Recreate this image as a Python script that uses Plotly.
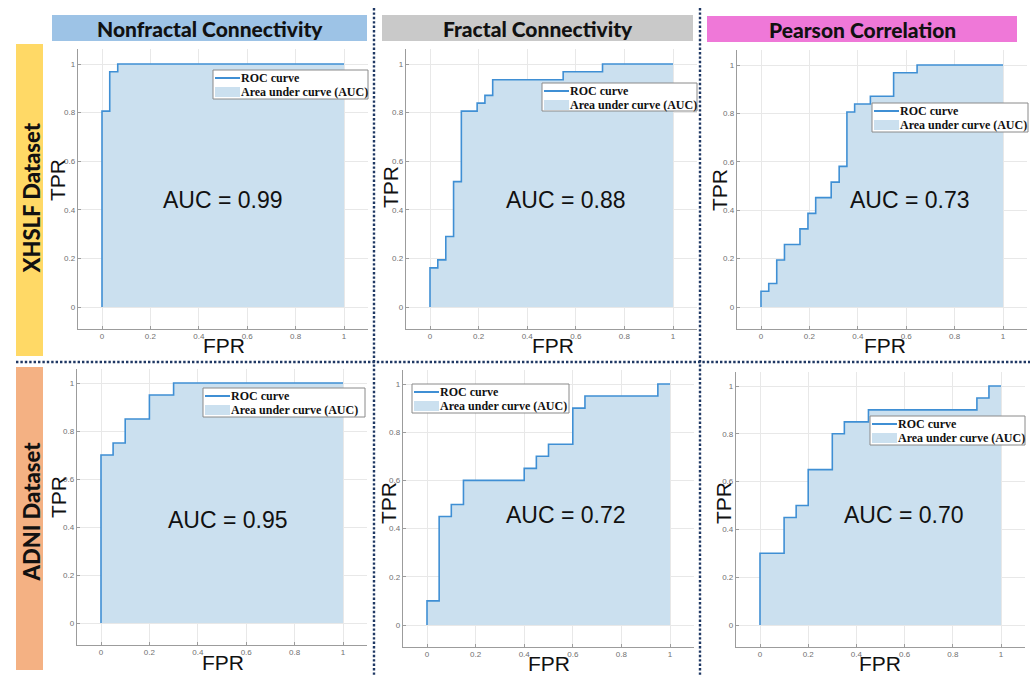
import plotly.graph_objects as go

W, H = 1032, 675

# ROC curves (staircase corner points, drawn with horizontal-then-vertical steps)
xhslf_nonfractal_fpr = [0, 0, 0.032, 0.065, 1]
xhslf_nonfractal_tpr = [0, 0.806, 0.968, 1, 1]

xhslf_fractal_fpr = [0, 0, 0.032, 0.065, 0.097, 0.129, 0.194, 0.226, 0.258, 0.548, 0.710, 1]
xhslf_fractal_tpr = [0, 0.161, 0.194, 0.290, 0.516, 0.806, 0.839, 0.871, 0.935, 0.968, 1, 1]

xhslf_pearson_fpr = [0, 0, 0.032, 0.065, 0.097, 0.161, 0.194, 0.226, 0.290, 0.323, 0.355, 0.387, 0.452, 0.548, 0.645, 1]
xhslf_pearson_tpr = [0, 0.065, 0.097, 0.194, 0.258, 0.323, 0.387, 0.452, 0.516, 0.581, 0.806, 0.839, 0.871, 0.968, 1, 1]

adni_nonfractal_fpr = [0, 0, 0.05, 0.10, 0.20, 0.30, 1]
adni_nonfractal_tpr = [0, 0.70, 0.75, 0.85, 0.95, 1, 1]

adni_fractal_fpr = [0, 0, 0.05, 0.10, 0.15, 0.40, 0.45, 0.50, 0.60, 0.65, 0.95, 1]
adni_fractal_tpr = [0, 0.10, 0.45, 0.50, 0.60, 0.65, 0.70, 0.75, 0.90, 0.95, 1, 1]

adni_pearson_fpr = [0, 0, 0.10, 0.15, 0.20, 0.30, 0.35, 0.45, 0.90, 0.95, 1]
adni_pearson_tpr = [0, 0.30, 0.45, 0.50, 0.65, 0.80, 0.85, 0.90, 0.95, 1, 1]

auc_labels = ["0.99", "0.88", "0.73", "0.95", "0.72", "0.70"]
column_titles = ["Nonfractal Connectivity", "Fractal Connectivity", "Pearson Correlation"]
row_titles = ["XHSLF Dataset", "ADNI Dataset"]
tick_values = [0, 0.2, 0.4, 0.6, 0.8, 1]
tick_text = ["0", "0.2", "0.4", "0.6", "0.8", "1"]

curves = [
    (xhslf_nonfractal_fpr, xhslf_nonfractal_tpr),
    (xhslf_fractal_fpr, xhslf_fractal_tpr),
    (xhslf_pearson_fpr, xhslf_pearson_tpr),
    (adni_nonfractal_fpr, adni_nonfractal_tpr),
    (adni_fractal_fpr, adni_fractal_tpr),
    (adni_pearson_fpr, adni_pearson_tpr),
]

# ---- layout geometry (pixels) ----
# pixel positions of data 0 and 1 on each axis: (x0, x1, y0, y1)
panel_px = [
    (102, 344, 307, 64),
    (430, 673, 307, 64),
    (761, 1003, 307, 65),
    (101, 343, 623, 383),
    (427, 670, 625, 384),
    (760, 1001, 625, 386),
]
# legend boxes: (left, top, right, bottom)
legend_px = [
    (213, 70, 368, 99),
    (542, 83, 697, 111),
    (872, 103, 1028, 132),
    (203, 388, 365, 417),
    (412, 384, 569, 413),
    (870, 416, 1025, 445),
]
auc_px = [(223, 200), (566, 200), (910, 200), (228, 520), (566, 515), (904, 515)]
fpr_px = [(224, 345), (553, 345), (885, 345), (223, 662), (549, 663), (880, 663)]
tpr_px = [(58, 180), (391, 187), (720, 190), (58, 497), (388, 503), (723, 503)]

XR = [-0.1, 1.1]
YR = [-0.09, 1.06]

LINE_BLUE = "#3f8fd4"
FILL_BLUE = "#cbe0ef"
GRID = "#e8e8e8"
AXIS = "#9c9c9c"
NAVY = "#1f3864"


def px(x):
    return x / W


def py(y):
    return 1 - y / H


fig = go.Figure()
layout = {}
shapes = []
annotations = []

for i, ((fpr, tpr), (x0, x1, y0, y1)) in enumerate(zip(curves, panel_px)):
    n = i + 1
    xa = "x" if n == 1 else f"x{n}"
    ya = "y" if n == 1 else f"y{n}"
    sx = x1 - x0
    sy = y0 - y1
    xdom = [px(x0 + XR[0] * sx), px(x0 + XR[1] * sx)]
    ydom = [py(y0 - YR[0] * sy), py(y0 - YR[1] * sy)]

    fig.add_trace(go.Scatter(
        x=fpr, y=tpr, xaxis=xa, yaxis=ya, mode="lines",
        line=dict(shape="hv", width=0, color=FILL_BLUE),
        fill="tozeroy", fillcolor=FILL_BLUE,
        name="Area under curve (AUC)", showlegend=False, hoverinfo="skip",
    ))
    fig.add_trace(go.Scatter(
        x=fpr, y=tpr, xaxis=xa, yaxis=ya, mode="lines",
        line=dict(shape="hv", width=1.6, color=LINE_BLUE),
        name="ROC curve", showlegend=False,
    ))

    axis_common = dict(
        tickvals=tick_values, ticktext=tick_text,
        tickfont=dict(family="Liberation Sans", size=8, color="#707070"),
        showgrid=True, gridcolor=GRID, gridwidth=1,
        zeroline=False, showline=True, linecolor=AXIS, linewidth=1,
        ticks="inside", ticklen=3, tickcolor=AXIS, mirror=False,
    )
    layout["xaxis" if n == 1 else f"xaxis{n}"] = dict(
        axis_common, domain=xdom, range=XR, anchor=ya)
    layout["yaxis" if n == 1 else f"yaxis{n}"] = dict(
        axis_common, domain=ydom, range=YR, anchor=xa)

    # legend box drawn in page coordinates
    L, T, R, B = legend_px[i]
    shapes.append(dict(type="rect", xref="paper", yref="paper",
                       x0=px(L), x1=px(R), y0=py(B), y1=py(T),
                       line=dict(color="#8a8a8a", width=1), fillcolor="white"))
    shapes.append(dict(type="line", xref="paper", yref="paper",
                       x0=px(L + 2), x1=px(L + 27), y0=py(T + 8), y1=py(T + 8),
                       line=dict(color=LINE_BLUE, width=2)))
    shapes.append(dict(type="rect", xref="paper", yref="paper",
                       x0=px(L + 2), x1=px(L + 27), y0=py(T + 27), y1=py(T + 17),
                       line=dict(width=0), fillcolor=FILL_BLUE))
    for txt, dy in (("ROC curve", 8), ("Area under curve (AUC)", 22)):
        annotations.append(dict(
            text=f"<b>{txt}</b>", xref="paper", yref="paper",
            x=px(L + 26), y=py(T + dy), xanchor="left", yanchor="middle",
            showarrow=False,
            font=dict(family="Liberation Serif", size=12, color="#111111")))

    ax, ay = auc_px[i]
    annotations.append(dict(
        text=f"AUC = {auc_labels[i]}", xref="paper", yref="paper",
        x=px(ax), y=py(ay), xanchor="center", yanchor="middle", showarrow=False,
        font=dict(family="Liberation Sans", size=23, color="#111111")))
    fx, fy = fpr_px[i]
    annotations.append(dict(
        text="FPR", xref="paper", yref="paper",
        x=px(fx), y=py(fy), xanchor="center", yanchor="middle", showarrow=False,
        font=dict(family="Liberation Sans", size=21, color="#111111")))
    tx, ty = tpr_px[i]
    annotations.append(dict(
        text="TPR", xref="paper", yref="paper", textangle=-90,
        x=px(tx), y=py(ty), xanchor="center", yanchor="middle", showarrow=False,
        font=dict(family="Liberation Sans", size=21, color="#111111")))

# column headers
header_px = [(52, 15, 367, 41), (382, 15, 693, 41), (707, 16, 1017, 42)]
header_colors = ["#9dc3e6", "#c9c9c9", "#ef78d8"]
for (L, T, R, B), col, title in zip(header_px, header_colors, column_titles):
    shapes.append(dict(type="rect", xref="paper", yref="paper",
                       x0=px(L), x1=px(R), y0=py(B), y1=py(T),
                       line=dict(width=0), fillcolor=col, layer="below"))
    annotations.append(dict(
        text=title, xref="paper", yref="paper",
        x=px((L + R) / 2), y=py((T + B) / 2 + 0.5), xanchor="center", yanchor="middle",
        showarrow=False,
        font=dict(family="Lato", size=21, weight=900, color="#111111")))

# row labels
row_px = [(16, 44, 43, 356), (16, 367, 43, 670)]
row_colors = ["#ffd966", "#f4b183"]
row_text_y = [198, 512]
for (L, T, R, B), col, title, cy in zip(row_px, row_colors, row_titles, row_text_y):
    shapes.append(dict(type="rect", xref="paper", yref="paper",
                       x0=px(L), x1=px(R), y0=py(B), y1=py(T),
                       line=dict(width=0), fillcolor=col, layer="below"))
    annotations.append(dict(
        text=title, xref="paper", yref="paper", textangle=-90,
        x=px((L + R) / 2 + 1), y=py(cy), xanchor="center", yanchor="middle",
        showarrow=False,
        font=dict(family="Lato", size=22, weight=900, color="#111111")))

# dotted separators
dot = dict(color=NAVY, width=2.4, dash="2.4px,2px")
shapes.append(dict(type="line", xref="paper", yref="paper",
                   x0=px(374), x1=px(374), y0=py(8), y1=py(675), line=dot))
shapes.append(dict(type="line", xref="paper", yref="paper",
                   x0=px(700), x1=px(700), y0=py(8), y1=py(675), line=dot))
shapes.append(dict(type="line", xref="paper", yref="paper",
                   x0=px(16), x1=px(1030), y0=py(362), y1=py(362), line=dot))

fig.update_layout(
    width=W, height=H,
    margin=dict(l=0, r=0, t=0, b=0),
    paper_bgcolor="white", plot_bgcolor="white",
    showlegend=False,
    shapes=shapes, annotations=annotations,
    **layout,
)

fig.write_html("out.html")
